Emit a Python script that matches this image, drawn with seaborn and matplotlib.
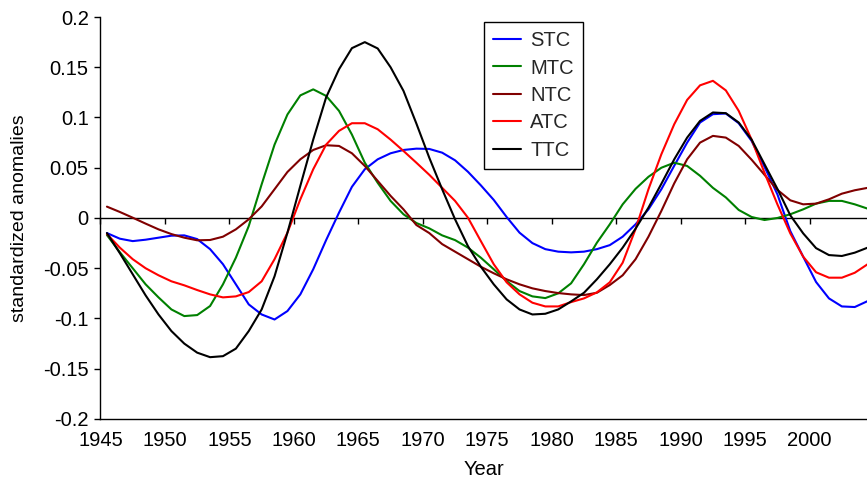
import numpy as np
import pandas as pd
import matplotlib
matplotlib.use("Agg")
import matplotlib.pyplot as plt
import seaborn as sns
from matplotlib.ticker import FuncFormatter

# Mid-year time stamps of the smoothed annual series
years = np.arange(1945, 2005) + 0.5

stc = [-0.015, -0.0206, -0.023, -0.0216, -0.0196, -0.0176, -0.0173, -0.021, -0.031, -0.046,
       -0.066, -0.086, -0.096, -0.101, -0.0926, -0.076, -0.051, -0.022, 0.0053, 0.031,
       0.0485, 0.0584, 0.0644, 0.0677, 0.069, 0.0687, 0.065, 0.0574, 0.046, 0.0325,
       0.018, 0.001, -0.0146, -0.025, -0.031, -0.0335, -0.0342, -0.0335, -0.031, -0.027,
       -0.0186, -0.0063, 0.0086, 0.0286, 0.052, 0.075, 0.095, 0.1033, 0.104, 0.0943,
       0.0767, 0.051, 0.0236, -0.013, -0.0385, -0.0637, -0.080, -0.088, -0.0886, -0.0827]

mtc = [-0.017, -0.034, -0.050, -0.066, -0.079, -0.091, -0.0976, -0.0966, -0.0876, -0.066,
       -0.0395, -0.008, 0.0335, 0.073, 0.103, 0.122, 0.128, 0.1215, 0.1066, 0.083,
       0.055, 0.035, 0.017, 0.0037, -0.005, -0.0103, -0.0173, -0.022, -0.0295, -0.0395,
       -0.051, -0.0627, -0.0727, -0.078, -0.0797, -0.075, -0.065, -0.046, -0.0246, -0.0063,
       0.0136, 0.029, 0.041, 0.050, 0.055, 0.0518, 0.042, 0.030, 0.0205, 0.008,
       0.001, -0.002, 0.0, 0.0037, 0.0086, 0.0143, 0.017, 0.017, 0.0136, 0.0093]

ntc = [0.0113, 0.006, 0.0003, -0.0056, -0.0113, -0.016, -0.0196, -0.0222, -0.0219, -0.0186,
       -0.0113, -0.0013, 0.0115, 0.0286, 0.0458, 0.0584, 0.0677, 0.0724, 0.0717, 0.0644,
       0.0518, 0.0369, 0.022, 0.0086, -0.007, -0.015, -0.026, -0.0335, -0.041, -0.0485,
       -0.055, -0.061, -0.066, -0.070, -0.0727, -0.0747, -0.076, -0.0767, -0.0744, -0.0667,
       -0.057, -0.041, -0.0186, 0.007, 0.0345, 0.0584, 0.075, 0.0817, 0.080, 0.0717,
       0.058, 0.043, 0.028, 0.0176, 0.0136, 0.0143, 0.0186, 0.0242, 0.0276, 0.030]

atc = [-0.016, -0.0295, -0.041, -0.050, -0.057, -0.063, -0.067, -0.0717, -0.076, -0.079,
       -0.078, -0.0737, -0.063, -0.041, -0.0146, 0.0186, 0.0485, 0.073, 0.0867, 0.0943,
       0.0943, 0.0883, 0.078, 0.0667, 0.055, 0.043, 0.030, 0.017, 0.0003, -0.023,
       -0.046, -0.064, -0.076, -0.0843, -0.088, -0.088, -0.0837, -0.080, -0.074, -0.064,
       -0.0445, -0.011, 0.0286, 0.0634, 0.0933, 0.1175, 0.132, 0.1365, 0.127, 0.1066,
       0.078, 0.045, 0.0136, -0.0153, -0.0385, -0.054, -0.0594, -0.0594, -0.0545, -0.046]

ttc = [-0.015, -0.035, -0.056, -0.077, -0.096, -0.1125, -0.125, -0.134, -0.1385, -0.1375,
       -0.130, -0.1125, -0.091, -0.058, -0.0146, 0.032, 0.078, 0.120, 0.148, 0.169,
       0.175, 0.1687, 0.150, 0.1265, 0.094, 0.060, 0.0286, -0.0013, -0.028, -0.0485,
       -0.066, -0.081, -0.091, -0.096, -0.0953, -0.091, -0.083, -0.0744, -0.061, -0.046,
       -0.0295, -0.0106, 0.0103, 0.034, 0.0584, 0.080, 0.0966, 0.105, 0.1043, 0.095,
       0.078, 0.0535, 0.029, 0.0027, -0.0153, -0.030, -0.0369, -0.0378, -0.0345, -0.0295]

series_names = ["STC", "MTC", "NTC", "ATC", "TTC"]
series_colors = ["#0000FF", "#008000", "#800000", "#FF0000", "#000000"]
x_tick_years = list(range(1945, 2001, 5))
y_tick_values = [-0.2, -0.15, -0.1, -0.05, 0.0, 0.05, 0.1, 0.15, 0.2]

df = pd.DataFrame({
    "Year": np.tile(years, len(series_names)),
    "value": np.concatenate([stc, mtc, ntc, atc, ttc]),
    "series": np.repeat(series_names, len(years)),
})

sns.set_theme(style="white")
plt.rcParams["font.family"] = ["Liberation Sans", "DejaVu Sans"]
plt.rcParams["axes.edgecolor"] = "black"

FS = 14.5
fig = plt.figure(figsize=(8.67, 4.79), dpi=100)
ax = fig.add_axes([0.1159, 0.1253, 1 - 0.1159, 0.8392])

sns.lineplot(data=df, x="Year", y="value", hue="series", hue_order=series_names,
             palette=dict(zip(series_names, series_colors)), linewidth=1.5,
             estimator=None, sort=False, ax=ax)

ax.set_xlim(1945, 2004.45)
ax.set_ylim(-0.2, 0.2)

for side in ("top", "right"):
    ax.spines[side].set_visible(False)
for side in ("left", "bottom"):
    ax.spines[side].set_linewidth(1.0)
    ax.spines[side].set_color("black")

ax.set_yticks(y_tick_values)
ax.yaxis.set_major_formatter(FuncFormatter(lambda v, p: "{:g}".format(round(v, 2) + 0.0)))
ax.tick_params(axis="y", direction="out", length=4, width=1, color="black",
               labelsize=FS, labelcolor="black", pad=4.5, left=True)

ax.set_xticks(x_tick_years)
ax.set_xticklabels([str(y) for y in x_tick_years])
ax.tick_params(axis="x", length=0, labelsize=FS, labelcolor="black", pad=8.5)

# Zero line carrying the year tick marks
zero_axis = ax.secondary_xaxis(0, transform=ax.transData)
zero_axis.set_ticks(x_tick_years)
zero_axis.tick_params(axis="x", direction="out", length=4, width=1, color="black",
                      labelbottom=False, labeltop=False)
zero_axis.spines["bottom"].set_linewidth(1.0)
zero_axis.spines["bottom"].set_color("black")

ax.set_xlabel("Year", fontsize=FS, color="black", labelpad=7)
ax.set_ylabel("standardized anomalies", fontsize=14, color="black", labelpad=11)

handles, labels = ax.get_legend_handles_labels()
leg = ax.legend(handles, labels, loc="upper left",
                bbox_to_anchor=(484 / 867, 1 - 22 / 479), bbox_transform=fig.transFigure,
                frameon=True, fancybox=False, edgecolor="black", framealpha=1,
                borderaxespad=0, handlelength=1.4, handletextpad=0.45,
                labelspacing=0.42, borderpad=0.45, fontsize=FS)
leg.get_frame().set_linewidth(1.0)

fig.savefig("out.png", dpi=100)
